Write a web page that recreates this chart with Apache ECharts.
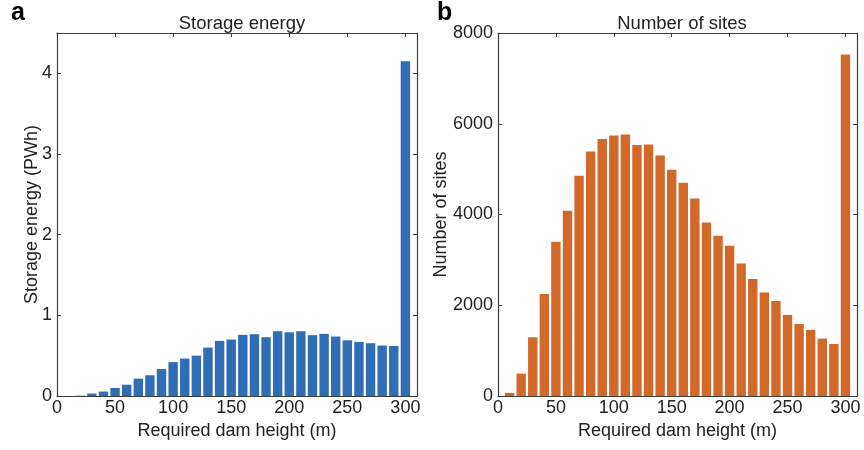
<!DOCTYPE html>
<html>
<head>
<meta charset="utf-8">
<script src="https://cdn.jsdelivr.net/npm/echarts@6/dist/echarts.min.js"></script>
<style>html,body{margin:0;padding:0;background:#fff}#c{width:864px;height:450px}</style>
</head>
<body>
<div id="c"></div>
<script>
// Bin centres of required dam height (m)
const heights = [10,20,30,40,50,60,70,80,90,100,110,120,130,140,150,160,170,180,190,200,210,220,230,240,250,260,270,280,290,300];
// Storage energy (PWh) per bin
const energy = [0,0.004,0.03,0.055,0.1,0.14,0.215,0.257,0.335,0.42,0.464,0.5,0.6,0.683,0.7,0.758,0.766,0.729,0.803,0.79,0.803,0.754,0.77,0.737,0.69,0.67,0.654,0.625,0.62,4.15];
// Number of sites per bin
const sites = [66,493,1294,2250,3397,4081,4853,5390,5662,5743,5765,5529,5544,5301,4985,4699,4353,3824,3529,3309,2919,2581,2279,2096,1787,1588,1456,1265,1147,7528];
const xTicks = [0,50,100,150,200,250,300];

const FONT = 'Liberation Sans, Arial, Helvetica, sans-serif';
const TXT = '#222';
const LINE = '#3c3c3c';

function xAx(grid, pos) {
  const main = pos === 'bottom';
  return {
    type: 'value', gridIndex: grid, position: pos, min: 0, max: 310, interval: 50,
    splitLine: {show: false},
    axisLine: {show: true, onZero: false, lineStyle: {color: LINE, width: 1.2}},
    axisTick: {show: true, inside: true, length: 4, lineStyle: {color: LINE}},
    axisLabel: {show: main, color: TXT, fontSize: 18, fontFamily: FONT, margin: 3,
      formatter: v => xTicks.indexOf(v) >= 0 ? String(v) : '', showMaxLabel: false},
    name: main ? 'Required dam height (m)' : '', nameLocation: 'middle', nameGap: 26,
    nameMoveOverlap: false,
    nameTextStyle: {color: TXT, fontSize: 18, fontFamily: FONT}
  };
}
function yAx(grid, pos, max, interval, name, gap) {
  const main = pos === 'left';
  return {
    type: 'value', gridIndex: grid, position: pos, min: 0, max: max, interval: interval,
    splitLine: {show: false},
    axisLine: {show: true, onZero: false, lineStyle: {color: LINE, width: 1.2}},
    axisTick: {show: true, inside: true, length: 4, lineStyle: {color: LINE}},
    axisLabel: {show: main, color: TXT, fontSize: 18, fontFamily: FONT, margin: 5,
      showMaxLabel: max === 8000, formatter: v => String(v)},
    name: main ? name : '', nameLocation: 'middle', nameGap: gap,
    nameMoveOverlap: false,
    nameTextStyle: {color: TXT, fontSize: 18, fontFamily: FONT}
  };
}

const chart = echarts.init(document.getElementById('c'), null, {renderer: 'canvas'});
chart.setOption({
  animation: false,
  backgroundColor: '#fff',
  title: [
    {text: 'Storage energy', left: 237, top: 9, textAlign: 'center',
      textStyle: {color: TXT, fontSize: 18.5, fontWeight: 'normal', fontFamily: FONT}},
    {text: 'Number of sites', left: 677, top: 9, textAlign: 'center',
      textStyle: {color: TXT, fontSize: 18.5, fontWeight: 'normal', fontFamily: FONT}}
  ],
  graphic: [
    {type: 'text', left: 11, top: 1, style: {text: 'a', fill: '#000', font: 'bold 25px ' + FONT}},
    {type: 'text', left: 437, top: 1, style: {text: 'b', fill: '#000', font: 'bold 25px ' + FONT}}
  ],
  grid: [
    {left: 57, top: 33, width: 360, height: 363},
    {left: 498, top: 33, width: 359, height: 363}
  ],
  xAxis: [xAx(0, 'bottom'), xAx(0, 'top'), xAx(1, 'bottom'), xAx(1, 'top')],
  yAxis: [
    yAx(0, 'left', 4.5, 1, 'Storage energy (PWh)', 16),
    yAx(0, 'right', 4.5, 1, '', 0),
    yAx(1, 'left', 8000, 2000, 'Number of sites', 48),
    yAx(1, 'right', 8000, 2000, '', 0)
  ],
  series: [
    {type: 'bar', xAxisIndex: 0, yAxisIndex: 0, barWidth: 9.4,
      itemStyle: {color: '#2f6db4'},
      data: heights.map((h, i) => [h, energy[i]])},
    {type: 'bar', xAxisIndex: 2, yAxisIndex: 2, barWidth: 9.4,
      itemStyle: {color: '#d2692b'},
      data: heights.map((h, i) => [h, sites[i]])}
  ]
});
</script>
</body>
</html>
